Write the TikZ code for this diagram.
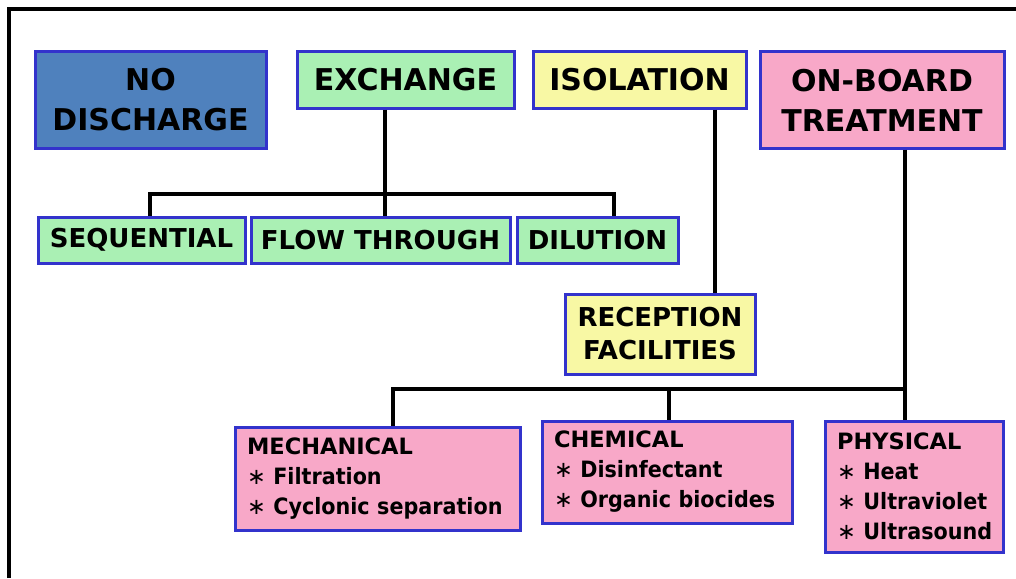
\documentclass[tikz,border=0pt]{standalone}
\usepackage{fontspec}
\setmainfont{DejaVu Sans}
\newfontfamily\itemfont[FakeStretch=0.92]{DejaVu Sans}
\definecolor{cblue}{RGB}{79,129,189}
\definecolor{cgreen}{RGB}{170,240,180}
\definecolor{cyellow}{RGB}{248,248,164}
\definecolor{cpink}{RGB}{248,168,200}
\definecolor{bordc}{RGB}{51,51,204}
\newcommand\bul{{\mdseries\char"2217}}
\newcommand\itm[1]{\bul~{\itemfont\bfseries #1}}
\hyphenpenalty=10000
\exhyphenpenalty=10000
\hbadness=10000
\hfuzz=200pt
\begin{document}
\begin{tikzpicture}[x=1pt,y=-1pt,
  box/.style={draw=bordc, line width=3pt, inner sep=0pt, align=center},
  big/.style={font=\bfseries\fontsize{30}{40}\selectfont},
  mid/.style={font=\bfseries\fontsize{26}{33}\selectfont},
  sml/.style={font=\bfseries\fontsize{22.5}{30}\selectfont, align=left},
  conn/.style={line width=4pt, draw=black}]
\useasboundingbox (0,0) rectangle (1016,578);
\fill[white] (0,0) rectangle (1016,578);
% frame
\draw[line width=3.5pt] (9,578) -- (9,9) -- (1016,9);
% top level
\node[box, big, fill=cblue, minimum width=231pt, minimum height=96pt] (nod) at (150.5,100) {NO\\DISCHARGE};
\node[box, big, fill=cgreen, minimum width=217pt, minimum height=56pt] (exch) at (405.5,80) {EXCHANGE};
\node[box, big, fill=cyellow, minimum width=213pt, minimum height=56pt] (iso) at (639.5,80) {ISOLATION};
\node[box, big, fill=cpink, minimum width=244pt, minimum height=96pt] (onb) at (882,100) {ON-BOARD\\TREATMENT};
% second level
\node[box, mid, fill=cgreen, minimum width=207pt, minimum height=46pt] (seq) at (141.5,240) {SEQUENTIAL};
\node[box, mid, fill=cgreen, minimum width=259pt, minimum height=46pt] (flow) at (380.5,240) {FLOW THROUGH};
\node[box, mid, fill=cgreen, minimum width=161pt, minimum height=46pt] (dil) at (597.5,240) {DILUTION};
\node[box, mid, fill=cyellow, minimum width=190pt, minimum height=80pt] (rec) at (660,334) {RECEPTION\\FACILITIES};
% treatment types
\node[box, sml, fill=cpink, minimum width=285pt, minimum height=103pt, text width=261pt] (mech) at (377.5,478.5) {MECHANICAL\\\itm{Filtration}\\\itm{Cyclonic~separation}};
\node[box, sml, fill=cpink, minimum width=250pt, minimum height=102pt, text width=226pt] (chem) at (667,472) {CHEMICAL\\\itm{Disinfectant}\\\itm{Organic~biocides}};
\node[box, sml, fill=cpink, minimum width=178pt, minimum height=131pt, text width=154pt] (phys) at (914,486.5) {PHYSICAL\\\itm{Heat}\\\itm{Ultraviolet}\\\itm{Ultrasound}};
% connectors
\coordinate (eb) at (385,194);
\coordinate (lb) at (905,389);
\draw[conn] ([xshift=-20.5pt]exch.south) -- ([xshift=4.5pt]flow.north);
\draw[conn] ([xshift=8.5pt]seq.north) |- (eb) -| ([xshift=16.5pt]dil.north);
\draw[conn] ([xshift=75.5pt]iso.south) -- ([xshift=55pt]rec.north);
\draw[conn] ([xshift=23pt]onb.south) -- ([xshift=-9pt]phys.north);
\draw[conn] ([xshift=15.5pt]mech.north) |- (lb);
\draw[conn] ([xshift=1.5pt]chem.north) -- ++(0,-32);
\end{tikzpicture}
\end{document}
